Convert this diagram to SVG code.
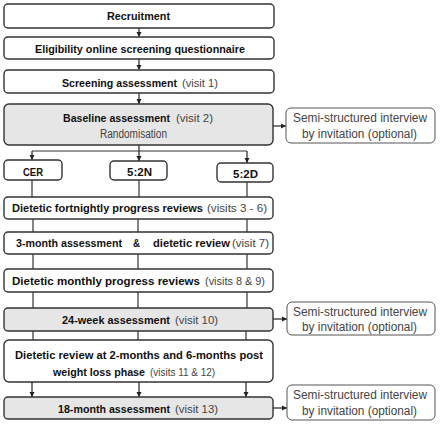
<svg xmlns="http://www.w3.org/2000/svg" width="440" height="427" viewBox="0 0 440 427">
<defs>
<marker id="ah" markerWidth="6" markerHeight="6" refX="5" refY="3" orient="auto" markerUnits="userSpaceOnUse">
<path d="M0,0.5 L5,3 L0,5.5 Z" fill="#222"/>
</marker>
<style>
.b{fill:#fff;stroke:#333;stroke-width:1.4}
.g{fill:#e6e6e6;stroke:#333;stroke-width:1.4}
.s{fill:#fff;stroke:#555;stroke-width:1}
text{font-family:"Liberation Sans",Arial,sans-serif;font-size:11px;fill:#111}
.bd{font-weight:bold}
.n{font-weight:normal;fill:#444}
.si{font-size:12px}
.c{stroke:#333;stroke-width:1.2;fill:none}
.a{stroke:#222;stroke-width:1.2;fill:none;marker-end:url(#ah)}
</style>
</defs>
<rect width="440" height="427" fill="#fff"/>
<g id="connectors">
<line class="a" x1="139" y1="28" x2="139" y2="37"/>
<line class="a" x1="139" y1="59" x2="139" y2="70"/>
<line class="a" x1="139" y1="93" x2="139" y2="104"/>
<line class="a" x1="139" y1="145" x2="139" y2="161"/>
<line class="c" x1="32" y1="151" x2="247" y2="151"/>
<line class="a" x1="32" y1="151" x2="32" y2="160"/>
<line class="a" x1="247" y1="151" x2="247" y2="163"/>
<line class="c" x1="32" y1="180" x2="32" y2="197"/>
<line class="c" x1="139" y1="180" x2="139" y2="197"/>
<line class="c" x1="247" y1="182" x2="247" y2="197"/>
<line class="c" x1="33" y1="219" x2="33" y2="232"/>
<line class="c" x1="138" y1="219" x2="138" y2="232"/>
<line class="c" x1="247" y1="219" x2="247" y2="232"/>
<line class="c" x1="33" y1="254" x2="33" y2="269"/>
<line class="c" x1="138" y1="254" x2="138" y2="269"/>
<line class="c" x1="247" y1="254" x2="247" y2="269"/>
<line class="c" x1="33" y1="292" x2="33" y2="308"/>
<line class="c" x1="138" y1="292" x2="138" y2="308"/>
<line class="c" x1="247" y1="292" x2="247" y2="308"/>
<line class="c" x1="33" y1="331" x2="33" y2="340"/>
<line class="c" x1="138" y1="331" x2="138" y2="340"/>
<line class="c" x1="246" y1="331" x2="246" y2="340"/>
<line class="a" x1="32" y1="382" x2="32" y2="397"/>
<line class="a" x1="139" y1="382" x2="139" y2="397"/>
<line class="a" x1="246" y1="382" x2="246" y2="397"/>
<line class="a" x1="273" y1="126" x2="286" y2="126"/>
<line class="a" x1="273" y1="319" x2="287" y2="319"/>
<line class="a" x1="273" y1="408" x2="287" y2="408"/>
</g>
<g id="recruitment">
<rect class="b" x="4" y="4" width="270" height="24" rx="4"/>
<text x="107" y="20" class="bd" textLength="63" lengthAdjust="spacingAndGlyphs">Recruitment</text>
</g>
<g id="eligibility">
<rect class="b" x="4" y="37" width="270" height="22" rx="4"/>
<text x="35" y="53" class="bd" textLength="210" lengthAdjust="spacingAndGlyphs">Eligibility online screening questionnaire</text>
</g>
<g id="screening">
<rect class="b" x="4" y="70" width="270" height="23" rx="4"/>
<text x="62" y="87" class="bd" textLength="115" lengthAdjust="spacingAndGlyphs">Screening assessment</text>
<text x="182" y="87" class="n" textLength="36" lengthAdjust="spacingAndGlyphs">(visit 1)</text>
</g>
<g id="baseline">
<rect class="g" x="4" y="104" width="269" height="41" rx="5"/>
<text x="63" y="122" class="bd" textLength="107" lengthAdjust="spacingAndGlyphs">Baseline assessment</text>
<text x="176" y="122" class="n" textLength="37" lengthAdjust="spacingAndGlyphs">(visit 2)</text>
<text x="100" y="138" class="n si" textLength="67" lengthAdjust="spacingAndGlyphs">Randomisation</text>
</g>
<g id="cer">
<rect class="b" x="4" y="160" width="58" height="20" rx="4"/>
<text x="23" y="176" class="bd" textLength="20" lengthAdjust="spacingAndGlyphs">CER</text>
</g>
<g id="n52">
<rect class="b" x="110" y="161" width="57" height="19" rx="4"/>
<text x="127" y="176" class="bd" textLength="25" lengthAdjust="spacingAndGlyphs">5:2N</text>
</g>
<g id="d52">
<rect class="b" x="217" y="163" width="56" height="19" rx="4"/>
<text x="233" y="178" class="bd" textLength="25" lengthAdjust="spacingAndGlyphs">5:2D</text>
</g>
<g id="fortnightly">
<rect class="b" x="4" y="197" width="269" height="22" rx="4"/>
<text x="12" y="212" class="bd" textLength="191" lengthAdjust="spacingAndGlyphs">Dietetic fortnightly progress reviews</text>
<text x="207" y="212" class="n" textLength="60" lengthAdjust="spacingAndGlyphs">(visits 3 - 6)</text>
</g>
<g id="threemonth">
<rect class="b" x="4" y="232" width="269" height="22" rx="4"/>
<text x="16" y="247" class="bd" textLength="106" lengthAdjust="spacingAndGlyphs">3-month assessment</text>
<text x="133" y="247" class="bd" textLength="7" lengthAdjust="spacingAndGlyphs">&amp;</text>
<text x="153" y="247" class="bd" textLength="77" lengthAdjust="spacingAndGlyphs">dietetic review</text>
<text x="232" y="247" class="n" textLength="37" lengthAdjust="spacingAndGlyphs">(visit 7)</text>
</g>
<g id="monthly">
<rect class="b" x="4" y="269" width="269" height="23" rx="4"/>
<text x="12" y="285" class="bd" textLength="188" lengthAdjust="spacingAndGlyphs">Dietetic monthly progress reviews</text>
<text x="205" y="285" class="n" textLength="60" lengthAdjust="spacingAndGlyphs">(visits 8 &amp; 9)</text>
</g>
<g id="week24">
<rect class="g" x="4" y="308" width="269" height="23" rx="4"/>
<text x="62" y="324" class="bd" textLength="108" lengthAdjust="spacingAndGlyphs">24-week assessment</text>
<text x="175" y="324" class="n" textLength="43" lengthAdjust="spacingAndGlyphs">(visit 10)</text>
</g>
<g id="review">
<rect class="b" x="4" y="340" width="269" height="42" rx="5"/>
<text x="15" y="359" class="bd" textLength="248" lengthAdjust="spacingAndGlyphs">Dietetic review at 2-months and 6-months post</text>
<text x="53" y="376" class="bd" textLength="92" lengthAdjust="spacingAndGlyphs">weight loss phase</text>
<text x="150" y="376" class="n" textLength="65" lengthAdjust="spacingAndGlyphs">(visits 11 &amp; 12)</text>
</g>
<g id="month18">
<rect class="g" x="4" y="397" width="269" height="22" rx="4"/>
<text x="58" y="413" class="bd" textLength="112" lengthAdjust="spacingAndGlyphs">18-month assessment</text>
<text x="175" y="413" class="n" textLength="43" lengthAdjust="spacingAndGlyphs">(visit 13)</text>
</g>
<g id="interview1">
<rect class="s" x="286" y="108" width="149" height="35" rx="5"/>
<text x="293" y="122" class="n si" textLength="134" lengthAdjust="spacingAndGlyphs">Semi-structured interview</text>
<text x="302" y="138" class="n si" textLength="115" lengthAdjust="spacingAndGlyphs">by invitation (optional)</text>
</g>
<g id="interview2">
<rect class="s" x="287" y="302" width="148" height="33" rx="5"/>
<text x="293" y="316" class="n si" textLength="134" lengthAdjust="spacingAndGlyphs">Semi-structured interview</text>
<text x="302" y="331" class="n si" textLength="115" lengthAdjust="spacingAndGlyphs">by invitation (optional)</text>
</g>
<g id="interview3">
<rect class="s" x="287" y="385" width="148" height="35" rx="5"/>
<text x="293" y="399" class="n si" textLength="134" lengthAdjust="spacingAndGlyphs">Semi-structured interview</text>
<text x="302" y="415" class="n si" textLength="115" lengthAdjust="spacingAndGlyphs">by invitation (optional)</text>
</g>
</svg>
